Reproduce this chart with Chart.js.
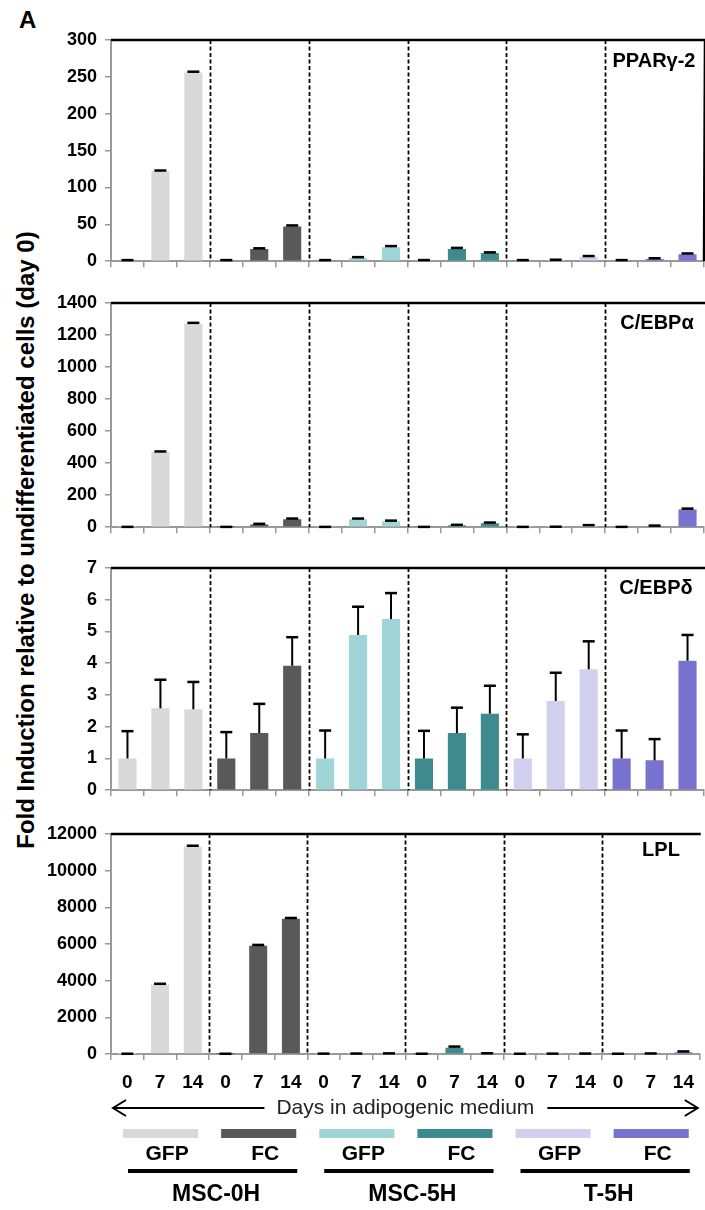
<!DOCTYPE html>
<html>
<head>
<meta charset="utf-8">
<script src="https://cdn.jsdelivr.net/npm/chart.js@4.4.0/dist/chart.umd.min.js"></script>
<style>
body { margin: 0; background: #fff; width: 705px; height: 1210px; position: relative; overflow: hidden; font-family: "Liberation Sans", Arial, sans-serif; }
canvas { position: absolute; left: 0; }
#letter { position: absolute; left: 19px; top: 6px; font: bold 24px "Liberation Sans", Arial, sans-serif; }
#ytitle { position: absolute; left: 26px; top: 540px; transform: translate(-50%, -50%) rotate(-90deg); white-space: nowrap; font: bold 24px "Liberation Sans", Arial, sans-serif; color: #000; }
</style>
</head>
<body>
<div id="letter">A</div>
<div id="ytitle">Fold Induction relative to undifferentiated cells (day 0)</div>
<canvas id="c0"></canvas>
<canvas id="c1"></canvas>
<canvas id="c2"></canvas>
<canvas id="c3"></canvas>
<script>
// categories
var days = ['0', '7', '14'];
var groups = ['MSC-0H', 'MSC-5H', 'T-5H'];
var vectors = ['GFP', 'FC'];
var groupColors = ['#d9d9d9', '#595959', '#a0d5d8', '#3d8b8f', '#d1d1ef', '#7773cf'];
var geneNames = ['PPARγ-2', 'C/EBPα', 'C/EBPδ', 'LPL'];

// values, 6 groups x 3 days (MSC-0H GFP, MSC-0H FC, MSC-5H GFP, MSC-5H FC, T-5H GFP, T-5H FC)
var pparValues = [1, 122, 256, 1, 16.5, 47, 1, 4.5, 19, 1, 16.5, 11, 1, 1.5, 6, 1, 3, 9.5];
var pparErrors = [0.5, 1, 1, 0.5, 1, 1.5, 0.5, 1, 1.5, 0.5, 1.5, 1, 0.5, 0.5, 1, 0.5, 1, 1];
var cebpaValues = [1, 469, 1271, 1, 17, 49, 1, 49, 37, 1, 12, 25, 1, 2, 10, 1, 7, 111];
var cebpaErrors = [1, 4, 5, 1, 4, 5, 1, 5, 4, 1, 3, 4, 1, 1, 3, 1, 3, 5];
var cebpdValues = [1.0, 2.58, 2.55, 1.0, 1.80, 3.92, 1.0, 4.89, 5.39, 1.0, 1.80, 2.41, 1.0, 2.81, 3.81, 1.0, 0.94, 4.08];
var cebpdErrors = [0.86, 0.90, 0.86, 0.83, 0.92, 0.90, 0.88, 0.89, 0.82, 0.87, 0.80, 0.88, 0.76, 0.89, 0.88, 0.88, 0.67, 0.81];
var lplValues = [5, 3790, 11310, 5, 5910, 7380, 10, 15, 25, 5, 345, 30, 5, 10, 15, 5, 20, 100];
var lplErrors = [10, 40, 50, 10, 40, 40, 10, 10, 10, 10, 60, 10, 10, 10, 10, 10, 10, 40];

// y axis ticks
var yMax = [300, 1400, 7, 12000];
var yStep = [50, 200, 1, 2000];

var panelValues = [pparValues, cebpaValues, cebpdValues, lplValues];
var panelErrors = [pparErrors, cebpaErrors, cebpdErrors, lplErrors];

// page layout of the four panels
var layout = [
    { canvasTop: 20, top: 40, bottom: 264, axisH: 16, labelX: 654, labelDy: 21, rightBorder: true },
    { canvasTop: 283, top: 303, bottom: 530, axisH: 16, labelX: 657, labelDy: 20 },
    { canvasTop: 548, top: 568, bottom: 793, axisH: 16, labelX: 656, labelDy: 20 },
    { canvasTop: 814, top: 834, bottom: 1054, axisH: 40, labelX: 661, labelDy: 16 }
];

var categories = [];
var barColors = [];
groupColors.forEach(function (c) {
    days.forEach(function (d) {
        categories.push(d);
        barColors.push(c);
    });
});

var errorBars = {
    id: 'errorBars',
    afterDatasetsDraw: function (chart, args, opts) {
        var ctx = chart.ctx;
        var y = chart.scales.y;
        var vals = chart.data.datasets[0].data;
        ctx.save();
        ctx.strokeStyle = '#000';
        chart.getDatasetMeta(0).data.forEach(function (bar, i) {
            var y0 = y.getPixelForValue(vals[i]);
            var y1 = y.getPixelForValue(vals[i] + opts.errors[i]);
            ctx.lineWidth = 2;
            ctx.beginPath();
            ctx.moveTo(bar.x, y0);
            ctx.lineTo(bar.x, y1);
            ctx.stroke();
            ctx.lineWidth = 2.5;
            ctx.beginPath();
            ctx.moveTo(bar.x - 6, y1);
            ctx.lineTo(bar.x + 6, y1);
            ctx.stroke();
        });
        ctx.restore();
    }
};

var frame = {
    id: 'frame',
    afterDraw: function (chart, args, opts) {
        var ctx = chart.ctx;
        var a = chart.chartArea;
        var cw = (a.right - a.left) / categories.length;
        ctx.save();
        // dashed separators between groups
        ctx.strokeStyle = '#000';
        ctx.lineWidth = 1.8;
        ctx.setLineDash([4, 2.5]);
        for (var k = 3; k < categories.length; k += 3) {
            var x = Math.round(a.left + k * cw) + 0.5;
            ctx.beginPath();
            ctx.moveTo(x, a.top);
            ctx.lineTo(x, a.bottom);
            ctx.stroke();
        }
        ctx.setLineDash([]);
        ctx.lineWidth = 2.5;
        ctx.beginPath();
        ctx.moveTo(a.left, a.top);
        ctx.lineTo(a.right + 1, a.top);
        if (opts.rightBorder) {
            ctx.lineTo(a.right, a.bottom);
        }
        ctx.stroke();
        // gene name
        ctx.fillStyle = '#000';
        ctx.font = 'bold 20px "Liberation Sans", Arial, sans-serif';
        ctx.textAlign = 'center';
        ctx.textBaseline = 'middle';
        ctx.fillText(opts.gene, opts.labelX, a.top + opts.labelDy);
        ctx.restore();
    }
};

var bottomLegend = {
    id: 'bottomLegend',
    afterDraw: function (chart, args, opts) {
        var ctx = chart.ctx;
        var a = chart.chartArea;
        var off = opts.offset;
        var cw = (a.right - a.left) / categories.length;
        var left = function (k) { return a.left + 3 * k * cw; };
        ctx.save();
        // arrow with text
        var ay = 1108 - off;
        var text = 'Days in adipogenic medium';
        ctx.font = '21px "Liberation Sans", Arial, sans-serif';
        var tw = ctx.measureText(text).width;
        var mid = (a.left + a.right) / 2;
        ctx.fillStyle = '#222';
        ctx.textAlign = 'center';
        ctx.textBaseline = 'middle';
        ctx.fillText(text, mid, ay);
        ctx.strokeStyle = '#000';
        ctx.lineWidth = 2;
        var x0 = a.left + 2, x1 = a.right - 2;
        ctx.beginPath();
        ctx.moveTo(x0, ay); ctx.lineTo(mid - tw / 2 - 12, ay);
        ctx.moveTo(mid + tw / 2 + 13, ay); ctx.lineTo(x1, ay);
        ctx.moveTo(x0 + 13, ay - 8); ctx.lineTo(x0, ay); ctx.lineTo(x0 + 13, ay + 8);
        ctx.moveTo(x1 - 13, ay - 8); ctx.lineTo(x1, ay); ctx.lineTo(x1 - 13, ay + 8);
        ctx.stroke();
        // colour swatches and vector names
        ctx.font = 'bold 21px "Liberation Sans", Arial, sans-serif';
        for (var k = 0; k < groupColors.length; k++) {
            ctx.fillStyle = groupColors[k];
            ctx.fillRect(left(k) + 12, 1129 - off, 3 * cw - 23, 9);
            ctx.fillStyle = '#000';
            ctx.fillText(vectors[k % 2], left(k) + 1.5 * cw + 7, 1154 - off);
        }
        // group bars and names
        ctx.font = 'bold 23px "Liberation Sans", Arial, sans-serif';
        for (var g = 0; g < groups.length; g++) {
            var lx = left(2 * g) + 17, rx = left(2 * g + 2) - 10;
            ctx.fillRect(lx, 1169 - off, rx - lx, 4);
            ctx.fillText(groups[g], (left(2 * g) + left(2 * g + 2)) / 2 + 7, 1195 - off);
        }
        ctx.restore();
    }
};

var fontTicks = { family: '"Liberation Sans", Arial, sans-serif', size: 18, weight: 'bold' };
var fontDays = { family: '"Liberation Sans", Arial, sans-serif', size: 19, weight: 'bold' };

layout.forEach(function (L, i) {
    var canvas = document.getElementById('c' + i);
    var last = i === layout.length - 1;
    var h = last ? 1210 - L.canvasTop : L.bottom - L.canvasTop + L.axisH;
    canvas.width = 705;
    canvas.height = h;
    canvas.style.top = L.canvasTop + 'px';
    new Chart(canvas.getContext('2d'), {
        type: 'bar',
        data: {
            labels: categories,
            datasets: [{
                data: panelValues[i],
                backgroundColor: barColors,
                borderWidth: 0,
                categoryPercentage: 1,
                barPercentage: 0.55
            }]
        },
        options: {
            responsive: false,
            animation: false,
            devicePixelRatio: 1,
            layout: { padding: { top: L.top - L.canvasTop, left: 0, right: 1, bottom: last ? h - (L.bottom - L.canvasTop) - L.axisH : 0 } },
            plugins: {
                legend: { display: false },
                tooltip: { enabled: false },
                errorBars: { errors: panelErrors[i] },
                frame: { gene: geneNames[i], labelX: L.labelX, labelDy: L.labelDy, rightBorder: !!L.rightBorder },
                bottomLegend: { offset: L.canvasTop }
            },
            scales: {
                x: {
                    grid: { drawOnChartArea: false, tickLength: 6, color: '#999', lineWidth: 1.5, offset: true },
                    border: { color: '#999', width: 2 },
                    ticks: { display: last, font: fontDays, color: '#000', padding: 11, maxRotation: 0, autoSkip: false },
                    afterFit: function (s) { s.height = L.axisH; }
                },
                y: {
                    min: 0,
                    max: yMax[i],
                    grid: { drawOnChartArea: false, tickLength: 6, color: '#999', lineWidth: 1.5 },
                    border: { color: '#999', width: 2 },
                    ticks: {
                        stepSize: yStep[i], font: fontTicks, color: '#000', padding: 8,
                        callback: function (v) { return String(v); }
                    },
                    afterFit: function (s) { s.width = 111; }
                }
            }
        },
        plugins: last ? [errorBars, frame, bottomLegend] : [errorBars, frame]
    });
});
</script>
</body>
</html>
